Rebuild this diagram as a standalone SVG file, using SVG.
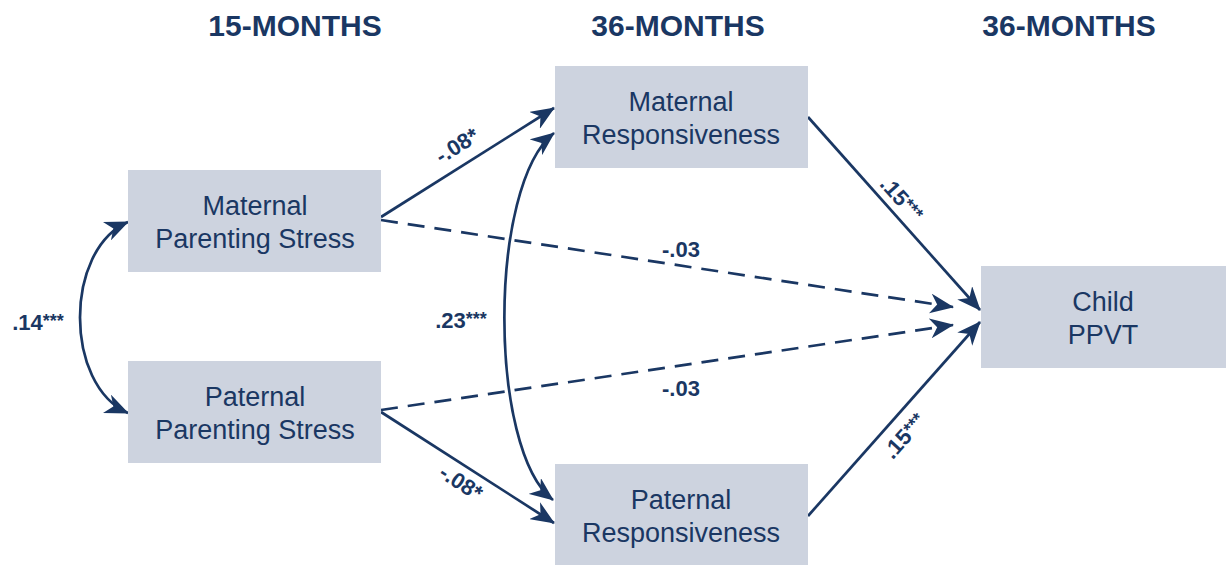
<svg xmlns="http://www.w3.org/2000/svg" width="1226" height="565" viewBox="0 0 1226 565">
<style>
.box{fill:#cdd3df}
.hdr{font-family:"Liberation Sans",Arial,sans-serif;font-weight:bold;font-size:30px;fill:#1a3763;text-anchor:middle}
.lbl{font-family:"Liberation Sans",Arial,sans-serif;font-size:27px;fill:#1a3763;text-anchor:middle}
.coef{font-family:"Liberation Sans",Arial,sans-serif;font-weight:bold;font-size:22px;fill:#1a3763;text-anchor:middle}
.st{font-size:18px}
.ln{fill:none;stroke:#1a3763;stroke-width:2.7}
.dash{stroke-dasharray:17 10}
.arr{marker-end:url(#ah)}
.both{marker-end:url(#ah);marker-start:url(#ahs)}
</style>
<defs>
<marker id="ah" viewBox="0 0 24 20" refX="23" refY="10" markerWidth="24" markerHeight="20" markerUnits="userSpaceOnUse" orient="auto">
<path d="M0,0 L24,10 L0,20 L7,10 Z" fill="#1a3763"/>
</marker>
<marker id="ahs" viewBox="0 0 24 20" refX="23" refY="10" markerWidth="24" markerHeight="20" markerUnits="userSpaceOnUse" orient="auto-start-reverse">
<path d="M0,0 L24,10 L0,20 L7,10 Z" fill="#1a3763"/>
</marker>
</defs>
<rect width="1226" height="565" fill="#ffffff"/>
<g id="headers">
<text class="hdr" x="295" y="36">15-MONTHS</text>
<text class="hdr" x="678" y="36">36-MONTHS</text>
<text class="hdr" x="1069" y="36">36-MONTHS</text>
</g>
<g id="connectors">
<path class="ln arr" d="M381,217 L554,108"/>
<path class="ln arr" d="M381,412 L554,523"/>
<path class="ln arr dash" d="M381,220 L953,307"/>
<path class="ln arr dash" d="M381,410 L953,325"/>
<path class="ln arr" d="M808,117 L980,310"/>
<path class="ln arr" d="M808,516 L980,322"/>
<path class="ln both" d="M128,413 C64,385 64,250 128,222"/>
<path class="ln both" d="M553,500 C488,450 488,185 554,133"/>
</g>
<g id="coefficients">
<text class="coef" transform="translate(461,152) rotate(-32)">-.08*</text>
<text class="coef" transform="translate(457,489) rotate(33)">-.08*</text>
<text class="coef" x="681" y="257">-.03</text>
<text class="coef" x="681" y="396">-.03</text>
<text class="coef" transform="translate(896,204) rotate(48)">.15<tspan class="st" dy="-3">***</tspan></text>
<text class="coef" transform="translate(910,441) rotate(-48)">.15<tspan class="st" dy="-3">***</tspan></text>
<text class="coef" x="38" y="330">.14<tspan class="st" dy="-3">***</tspan></text>
<text class="coef" x="461" y="328">.23<tspan class="st" dy="-3">***</tspan></text>
</g>
<g id="node-maternal-stress">
<rect class="box" x="128" y="170" width="253" height="102"/>
<text class="lbl" x="255" y="215">Maternal</text>
<text class="lbl" x="255" y="248">Parenting Stress</text>
</g>
<g id="node-paternal-stress">
<rect class="box" x="128" y="361" width="253" height="102"/>
<text class="lbl" x="255" y="406">Paternal</text>
<text class="lbl" x="255" y="439">Parenting Stress</text>
</g>
<g id="node-maternal-resp">
<rect class="box" x="555" y="66" width="253" height="102"/>
<text class="lbl" x="681" y="111">Maternal</text>
<text class="lbl" x="681" y="144">Responsiveness</text>
</g>
<g id="node-paternal-resp">
<rect class="box" x="555" y="464" width="253" height="101"/>
<text class="lbl" x="681" y="509">Paternal</text>
<text class="lbl" x="681" y="542">Responsiveness</text>
</g>
<g id="node-child">
<rect class="box" x="981" y="266" width="245" height="102"/>
<text class="lbl" x="1103" y="311">Child</text>
<text class="lbl" x="1103" y="344">PPVT</text>
</g>
</svg>
